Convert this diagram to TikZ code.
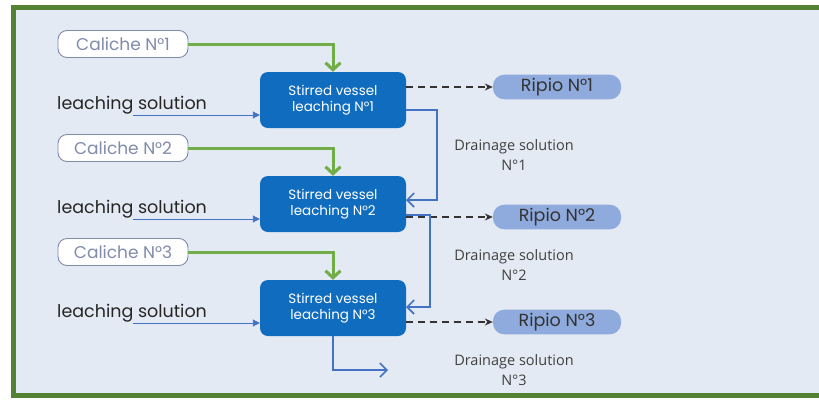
\documentclass[tikz,border=0pt]{standalone}
\usepackage{fontspec}
\setmainfont{Poppins}
\newfontfamily\calfont{Open Sans}
\usetikzlibrary{arrows.meta}
\definecolor{framegreen}{RGB}{84,130,53}
\definecolor{bgblue}{RGB}{228,234,244}
\definecolor{arrgreen}{RGB}{112,173,71}
\definecolor{vesselblue}{RGB}{16,108,190}
\definecolor{lineblue}{RGB}{68,114,196}
\definecolor{ripioblue}{RGB}{143,170,220}
\definecolor{calgray}{RGB}{128,140,170}
\tikzset{
  calbox/.style={draw=calgray, line width=0.9pt, fill=white, rounded corners=9pt, minimum width=130pt, minimum height=27pt, text=calgray, font=\fontsize{17}{18}\selectfont},
  vessel/.style={fill=vesselblue, rounded corners=8pt, minimum width=146pt, minimum height=56pt, text=white, align=center, font=\fontsize{13.5}{16}\selectfont},
  ripio/.style={fill=ripioblue, rounded corners=11pt, minimum width=128pt, minimum height=22pt, text=black!80, font=\fontsize{17.5}{19}\selectfont},
  leachtxt/.style={text=black!85, font=\fontsize{17.5}{19}\selectfont, inner sep=0pt},
  draintxt/.style={text=black!75, align=center, font=\calfont\fontsize{14.5}{20}\selectfont},
  greenarr/.style={draw=arrgreen, line width=3pt, -{Straight Barb[length=7pt,width=15pt,line width=3pt]}},
  leacharr/.style={draw=lineblue, line width=0.9pt, -{Triangle[length=7pt,width=7pt]}},
  dasharr/.style={draw=black!80, line width=1.1pt, dashed, dash pattern=on 7pt off 5pt, -{Stealth[length=8pt,width=7pt]}},
  drainarr/.style={draw=lineblue, line width=2pt, -{Straight Barb[length=7pt,width=14pt,line width=1.6pt]}}
}
\begin{document}
\begin{tikzpicture}[x=1pt,y=-1pt]
\useasboundingbox (0,0) rectangle (819,400);
\fill[white] (0,0) rectangle (819,400);
\draw[framegreen, line width=5pt, fill=bgblue] (13,7.5) rectangle (830,395.5);

% caliche boxes
\node[calbox] (c1) at (123,44) {Caliche N°1};
\node[calbox] (c2) at (123,148) {Caliche N°2};
\node[calbox] (c3) at (123,252) {Caliche N°3};

% vessels
\node[vessel] (v1) at (333,100) {Stirred vessel\\leaching N°1};
\node[vessel] (v2) at (333,204) {Stirred vessel\\leaching N°2};
\node[vessel] (v3) at (333,308) {Stirred vessel\\leaching N°3};

% ripio
\node[ripio] (r1) at (557,87) {Ripio N°1};
\node[ripio] (r2) at (557,217) {Ripio N°2};
\node[ripio] (r3) at (557,322) {Ripio N°3};

% leaching solution labels
\node[leachtxt, anchor=west] (l1) at (57,105) {leaching solution};
\node[leachtxt, anchor=west] (l2) at (57,209) {leaching solution};
\node[leachtxt, anchor=west] (l3) at (57,313) {leaching solution};

% drainage labels
\node[draintxt] (d1) at (514,155) {Drainage solution\\N°1};
\node[draintxt] (d2) at (514,265) {Drainage solution\\N°2};
\node[draintxt] (d3) at (514,370) {Drainage solution\\N°3};

% green arrows
\draw[greenarr] (c1.east) -| (v1.north);
\draw[greenarr] (c2.east) -| (v2.north);
\draw[greenarr] (c3.east) -| (v3.north);

% leaching solution arrows
\coordinate (ls1) at (133,115);
\coordinate (ls2) at (133,219);
\coordinate (ls3) at (133,323);
\draw[leacharr] (ls1) -- (ls1 -| v1.west);
\draw[leacharr] (ls2) -- (ls2 -| v2.west);
\draw[leacharr] (ls3) -- (ls3 -| v3.west);

% dashed arrows
\draw[dasharr] (v1.east |- r1) -- (r1.west);
\draw[dasharr] (v2.east |- r2) -- (r2.west);
\draw[dasharr] (v3.east |- r3) -- (r3.west);

% drainage connections
\coordinate (o1) at (406,110);
\coordinate (i2) at (406,200);
\coordinate (o2) at (406,215);
\coordinate (i3) at (406,307);
\draw[drainarr] (o1) -- (437,110) -- (437,200) -- (i2);
\draw[drainarr] (o2) -- (430,215) -- (430,307) -- (i3);
\coordinate (out3) at (388,370);
\draw[drainarr] (v3.south) -- (333,370) -- (out3);
\end{tikzpicture}
\end{document}
